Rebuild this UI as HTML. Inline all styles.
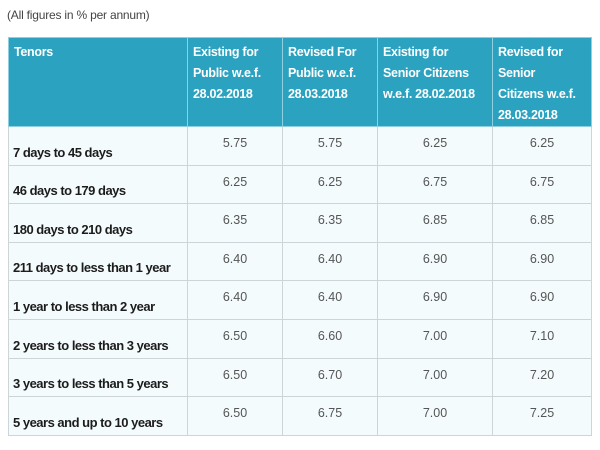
<!DOCTYPE html>
<html><head><meta charset="utf-8"><style>
body{margin:0;width:600px;height:450px;background:#fff;font-family:"Liberation Sans",Arial,sans-serif;position:relative;overflow:hidden}
.cap{position:absolute;left:7px;top:8px;font-size:12px;color:#444;letter-spacing:-0.2px}
table{position:absolute;left:8px;top:37px;border-collapse:collapse;table-layout:fixed}
th{background:#2ba2bf;color:#fff;font-size:12.5px;font-weight:bold;text-align:left;vertical-align:top;padding:4px 2px 0 5px;line-height:21px;height:89px;border:1px solid #8fcfdf;box-sizing:border-box;letter-spacing:-0.3px;white-space:nowrap}
td{background:#f4fbfd;border:1px solid #cdd5d8;height:38.6px;box-sizing:border-box;font-size:12px;padding:0}
td.t{color:#1c1c1c;font-weight:bold;font-size:13px;vertical-align:bottom;padding:0 0 5px 4px;letter-spacing:-0.5px;white-space:nowrap}
td.v{color:#555;text-align:center;vertical-align:top;padding-top:9px;font-size:12.5px}
</style></head><body>
<div class="cap">(All figures in % per annum)</div>
<table>
<colgroup><col style="width:179px"><col style="width:95px"><col style="width:95px"><col style="width:115px"><col style="width:99px"></colgroup>
<tr><th>Tenors</th><th>Existing for<br>Public w.e.f.<br>28.02.2018</th><th>Revised For<br>Public w.e.f.<br>28.03.2018</th><th>Existing for<br>Senior Citizens<br>w.e.f. 28.02.2018</th><th>Revised for<br>Senior<br>Citizens w.e.f.<br>28.03.2018</th></tr>
<tr><td class="t">7 days to 45 days</td><td class="v">5.75</td><td class="v">5.75</td><td class="v">6.25</td><td class="v">6.25</td></tr>
<tr><td class="t">46 days to 179 days</td><td class="v">6.25</td><td class="v">6.25</td><td class="v">6.75</td><td class="v">6.75</td></tr>
<tr><td class="t">180 days to 210 days</td><td class="v">6.35</td><td class="v">6.35</td><td class="v">6.85</td><td class="v">6.85</td></tr>
<tr><td class="t">211 days to less than 1 year</td><td class="v">6.40</td><td class="v">6.40</td><td class="v">6.90</td><td class="v">6.90</td></tr>
<tr><td class="t">1 year to less than 2 year</td><td class="v">6.40</td><td class="v">6.40</td><td class="v">6.90</td><td class="v">6.90</td></tr>
<tr><td class="t">2 years to less than 3 years</td><td class="v">6.50</td><td class="v">6.60</td><td class="v">7.00</td><td class="v">7.10</td></tr>
<tr><td class="t">3 years to less than 5 years</td><td class="v">6.50</td><td class="v">6.70</td><td class="v">7.00</td><td class="v">7.20</td></tr>
<tr><td class="t">5 years and up to 10 years</td><td class="v">6.50</td><td class="v">6.75</td><td class="v">7.00</td><td class="v">7.25</td></tr>
</table>
</body></html>
